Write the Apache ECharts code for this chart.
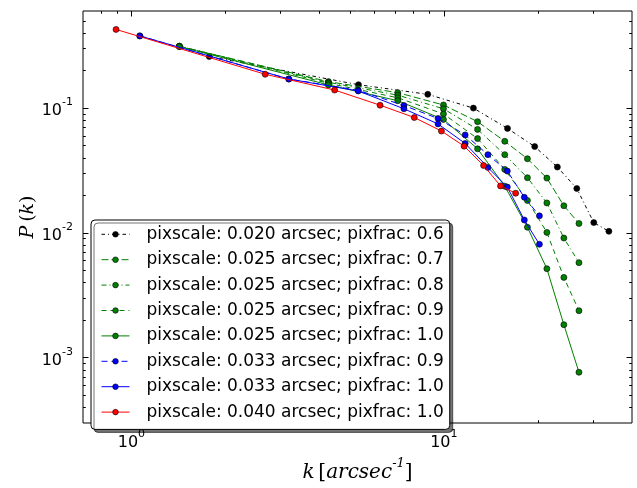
<!DOCTYPE html>
<html>
<head>
<meta charset="utf-8">
<script src="https://cdn.jsdelivr.net/npm/echarts@6/dist/echarts.min.js"></script>
<style>html,body{margin:0;padding:0;background:#fff;}#c{width:637px;height:488px;}</style>
</head>
<body>
<div id="c"></div>
<script>
// k values (arcsec^-1) for each pixscale sampling
const kPix020 = [1.775, 5.33, 8.88, 12.43, 15.98, 19.53, 23.08, 26.63, 30.18, 33.73];
const kPix025 = [1.424, 4.27, 7.12, 9.97, 12.82, 15.66, 18.51, 21.36, 24.21, 27.06];
const kPix033 = [1.064, 3.19, 5.32, 7.45, 9.58, 11.70, 13.83, 15.96, 18.09, 20.22];
const kPix040 = [0.893, 2.68, 4.47, 6.25, 8.04, 9.82, 11.61, 13.40, 15.18, 16.97];

// P(k) values
const p020_06 = [0.259, 0.154, 0.129, 0.100, 0.0688, 0.0492, 0.0337, 0.0227, 0.0121, 0.0103];
const p025_07 = [0.313, 0.163, 0.133, 0.106, 0.0779, 0.0542, 0.0393, 0.0275, 0.0165, 0.0119];
const p025_08 = [0.313, 0.161, 0.127, 0.0988, 0.0675, 0.0424, 0.0277, 0.0174, 0.0091, 0.00578];
const p025_09 = [0.313, 0.158, 0.121, 0.0898, 0.0570, 0.0323, 0.0182, 0.0101, 0.0044, 0.00238];
const p025_10 = [0.311, 0.1535, 0.1147, 0.0811, 0.0472, 0.0237, 0.0111, 0.00517, 0.00184, 0.000765];
const p033_09 = [0.379, 0.171, 0.139, 0.1049, 0.0826, 0.0610, 0.0424, 0.0313, 0.0193, 0.0137];
const p033_10 = [0.379, 0.171, 0.1372, 0.0988, 0.0747, 0.0521, 0.0335, 0.0233, 0.0127, 0.00811];
const p040_10 = [0.427, 0.1867, 0.1396, 0.1055, 0.0841, 0.0655, 0.0496, 0.0347, 0.0238, 0.0208];

const seriesNames = [
  'pixscale: 0.020 arcsec; pixfrac: 0.6',
  'pixscale: 0.025 arcsec; pixfrac: 0.7',
  'pixscale: 0.025 arcsec; pixfrac: 0.8',
  'pixscale: 0.025 arcsec; pixfrac: 0.9',
  'pixscale: 0.025 arcsec; pixfrac: 1.0',
  'pixscale: 0.033 arcsec; pixfrac: 0.9',
  'pixscale: 0.033 arcsec; pixfrac: 1.0',
  'pixscale: 0.040 arcsec; pixfrac: 1.0'
];

// tick values
const xMajor = [1, 10];
const xMinor = [0.8, 0.9, 2, 3, 4, 5, 6, 7, 8, 9, 20, 30];
const yMajor = [0.001, 0.01, 0.1];
const yMinor = [0.0004, 0.0005, 0.0006, 0.0007, 0.0008, 0.0009,
  0.002, 0.003, 0.004, 0.005, 0.006, 0.007, 0.008, 0.009,
  0.02, 0.03, 0.04, 0.05, 0.06, 0.07, 0.08, 0.09,
  0.2, 0.3, 0.4, 0.5];

const zip = (ks, ps) => ks.map((k, i) => [k, ps[i]]);
const seriesData = [
  {k: kPix020, p: p020_06, color: '#000000', dash: [3.5, 3, 1, 3]},
  {k: kPix025, p: p025_07, color: '#008000', dash: [7, 3]},
  {k: kPix025, p: p025_08, color: '#008000', dash: [5, 3, 1, 3]},
  {k: kPix025, p: p025_09, color: '#008000', dash: [5, 4]},
  {k: kPix025, p: p025_10, color: '#008000', dash: 'solid'},
  {k: kPix033, p: p033_09, color: '#0000ff', dash: [6, 4]},
  {k: kPix033, p: p033_10, color: '#0000ff', dash: 'solid'},
  {k: kPix040, p: p040_10, color: '#ff0000', dash: 'solid'}
];

const FONT = 'DejaVu Sans';
const richTick = {
  b: {fontSize: 16, fontFamily: FONT, color: '#000', lineHeight: 22, verticalAlign: 'bottom'},
  s: {fontSize: 11, fontFamily: FONT, color: '#000', lineHeight: 11, verticalAlign: 'top'}
};
const powFmt = v => '{b|10}{s|' + Math.round(Math.log10(v)) + '}';

function xAx(pos, vals, len, labels) {
  return {
    type: 'log', position: pos, min: 0.7, max: 40, logBase: 10,
    axisLine: {show: false, onZero: false},
    splitLine: {show: false},
    minorTick: {show: false},
    axisTick: {show: true, inside: true, length: len, customValues: vals, lineStyle: {color: '#000', width: 1}},
    axisLabel: labels ? {show: true, customValues: xMajor, formatter: powFmt, rich: richTick, margin: 6} : {show: false}
  };
}
function yAx(pos, vals, len, labels) {
  return {
    type: 'log', position: pos, min: 0.0003, max: 0.6, logBase: 10,
    axisLine: {show: false, onZero: false},
    splitLine: {show: false},
    minorTick: {show: false},
    axisTick: {show: true, inside: true, length: len, customValues: vals, lineStyle: {color: '#000', width: 1}},
    axisLabel: labels ? {show: true, customValues: yMajor, formatter: powFmt, rich: richTick, margin: 10} : {show: false}
  };
}

const xAxes = [xAx('bottom', xMajor, 5.5, true), xAx('bottom', xMinor, 2.8, false),
               xAx('top', xMajor, 5.5, false), xAx('top', xMinor, 2.8, false)];
xAxes[0].name = '{i|k} {n|[}{i|arcsec}{s|-1}{n|]}';
xAxes[0].nameLocation = 'middle';
xAxes[0].nameGap = 34;
xAxes[0].nameMoveOverlap = false;
xAxes[0].nameTextStyle = {
  rich: {
    i: {fontFamily: 'DejaVu Serif', fontStyle: 'italic', fontSize: 20, color: '#000', lineHeight: 26, verticalAlign: 'bottom'},
    n: {fontFamily: 'DejaVu Serif', fontSize: 20, color: '#000', lineHeight: 26, verticalAlign: 'bottom'},
    s: {fontFamily: 'DejaVu Serif', fontStyle: 'italic', fontSize: 13, color: '#000', lineHeight: 13, verticalAlign: 'top'}
  }
};
const yAxes = [yAx('left', yMajor, 5.5, true), yAx('left', yMinor, 2.8, false),
               yAx('right', yMajor, 5.5, false), yAx('right', yMinor, 2.8, false)];
yAxes[0].name = '{i|P} {n|(}{i|k}{n|)}';
yAxes[0].nameLocation = 'middle';
yAxes[0].nameGap = 45;
yAxes[0].nameMoveOverlap = false;
yAxes[0].nameTextStyle = {
  rich: {
    i: {fontFamily: 'DejaVu Serif', fontStyle: 'italic', fontSize: 19, color: '#000'},
    n: {fontFamily: 'DejaVu Serif', fontSize: 19, color: '#000'}
  }
};

const chart = echarts.init(document.getElementById('c'), null, {renderer: 'canvas'});
chart.setOption({
  animation: false,
  backgroundColor: '#ffffff',
  textStyle: {fontFamily: FONT},
  grid: {left: 83, top: 11, width: 549, height: 426, show: true, borderColor: '#000', borderWidth: 1, backgroundColor: 'transparent'},
  xAxis: xAxes,
  yAxis: yAxes,
  legend: {
    left: 91, top: 220, orient: 'vertical',
    itemWidth: 28, itemHeight: 7, itemGap: 5.4,
    padding: [4.3, 6, 7.3, 10],
    backgroundColor: '#ffffff', borderColor: '#000', borderWidth: 1, borderRadius: 4,
    shadowColor: 'rgba(0,0,0,0.55)', shadowBlur: 0, shadowOffsetX: 3, shadowOffsetY: 3,
    lineStyle: {width: 1},
    itemStyle: {borderWidth: 0.6, borderColor: '#000'},
    textStyle: {fontFamily: FONT, fontSize: 17, color: '#000', lineHeight: 20, padding: [0, 0, 0, 12]},
    data: seriesNames
  },
  series: seriesData.map((s, i) => ({
    name: seriesNames[i],
    type: 'line',
    xAxisIndex: 0, yAxisIndex: 0,
    data: zip(s.k, s.p),
    symbol: 'circle', symbolSize: 6, showAllSymbol: true,
    itemStyle: {color: s.color, borderColor: '#000', borderWidth: 0.6},
    lineStyle: {color: s.color, width: 1, type: s.dash},
    emphasis: {disabled: true},
    z: 2 + i
  }))
});
</script>
</body>
</html>
